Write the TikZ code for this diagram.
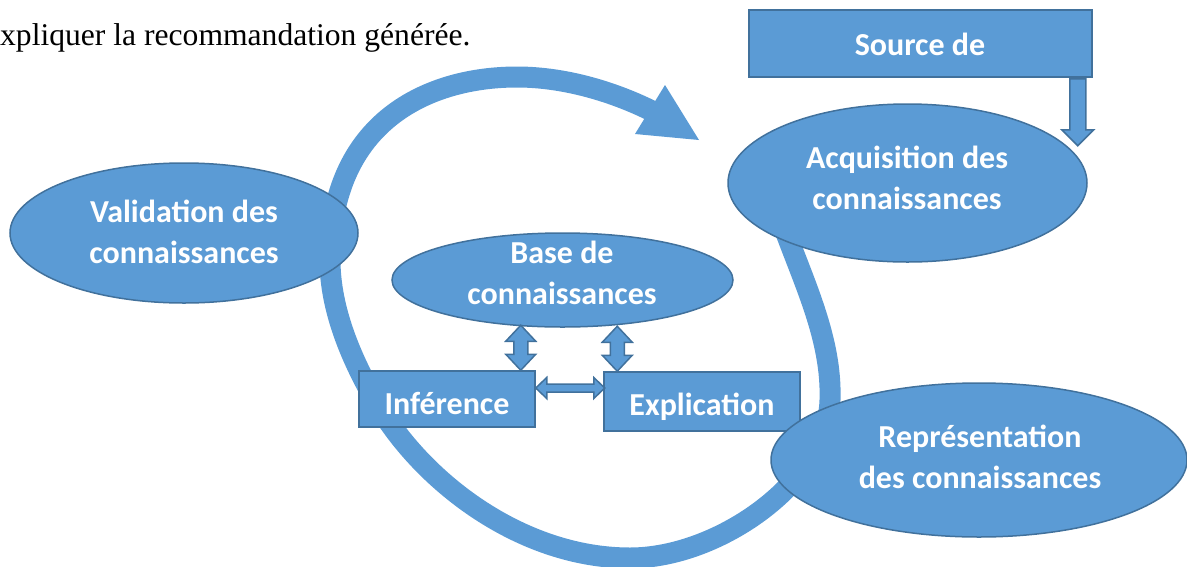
\documentclass[tikz,border=0pt]{standalone}
\usepackage{fontspec}
\setmainfont{Liberation Serif}
\newfontfamily\labelfont{Carlito}
\usetikzlibrary{shapes.geometric,calc}
\definecolor{fillblue}{HTML}{5B9BD5}
\definecolor{edgeblue}{HTML}{41719C}
\tikzset{
  shapebase/.style={fill=fillblue, draw=edgeblue, line width=1.5pt, inner sep=0pt},
  oval/.style={shapebase, ellipse},
  panel/.style={shapebase, rectangle},
  caption/.style={text=white, font=\labelfont\bfseries\fontsize{32}{41}\selectfont, align=center, inner sep=0pt},
  band/.style={draw=fillblue, line width=21pt},
  blockarrow/.style={fill=fillblue, draw=edgeblue, line width=1.5pt, line join=miter},
  vdouble/.pic={\draw[blockarrow] (0,0) -- (15,-16) -- (7,-16) -- (7,-29) -- (15,-29) -- (0,-45)
      -- (-15,-29) -- (-7,-29) -- (-7,-16) -- (-15,-16) -- cycle;},
  hdouble/.pic={\draw[blockarrow] (0,0) -- (11,-10.5) -- (11,-4) -- (58,-4) -- (58,-10.5) -- (69,0)
      -- (58,10.5) -- (58,4) -- (11,4) -- (11,10.5) -- cycle;},
}
\begin{document}
\begin{tikzpicture}[x=1pt,y=-1pt]
\useasboundingbox (0,0) rectangle (1187,566);

% lead-in sentence
\node[anchor=base west, inner sep=0pt, font=\fontsize{31.6}{31.6}\selectfont] (intro) at (0,45)
  {xpliquer la recommandation générée.};

% the knowledge cycle band (drawn beneath the shapes)
\coordinate (loopstart) at (783,225);
\coordinate (loopend) at (656,113);
\draw[band] (loopstart) .. controls (805,285) and (832,340) .. (830,400)
  .. controls (828,480) and (720,558) .. (630,558)
  .. controls (520,558) and (420,480) .. (375,400)
  .. controls (352,360) and (330,310) .. (330,260)
  .. controls (330,120) and (430,77) .. (517,77)
  .. controls (565,77) and (615,92) .. (loopend);
\fill[fillblue] (665,85) -- (699,140) -- (635,134) -- cycle;

% shapes
\node[panel, minimum width=343pt, minimum height=67pt] (src) at (920.5,43.5) {};
\node[oval, minimum width=359pt, minimum height=158pt] (acq) at (907.5,183) {};
\node[oval, minimum width=348pt, minimum height=140pt] (val) at (184,233) {};
\node[oval, minimum width=341pt, minimum height=94pt] (base) at (562.5,280) {};
\node[panel, minimum width=176pt, minimum height=56pt] (inf) at (447,399) {};
\node[panel, minimum width=196pt, minimum height=59pt] (expl) at (702,401.5) {};
\node[oval, minimum width=416pt, minimum height=154pt] (rep) at (979,460) {};

% captions
\node[caption] (srctxt) at (920,44) {Source de};
\node[caption] (acqtxt) at (907,177.5) {Acquisition des\\connaissances};
\node[caption] (valtxt) at (184,231.5) {Validation des\\connaissances};
\node[caption] (basetxt) at (562,272.5) {Base de\\connaissances};
\node[caption] (inftxt) at (447,403) {Inférence};
\node[caption] (expltxt) at (702,407) {Explication};
\node[caption] (reptxt) at (980,456.5) {Représentation\\des connaissances};

% arrow from the knowledge source into acquisition
\draw[blockarrow] ($(src.south east)+(-7,1)$) -- ++(0,51) -- ++(8,0) -- ++(-16,16)
  -- ++(-16,-16) -- ++(8,0) -- ++(0,-51) -- cycle;

% exchanges between the knowledge base, inference and explication
\pic at ($(inf.north east)+(-15,0)$) {vdouble};
\pic at ($(expl.north west)+(14,0)$) {vdouble};
\pic at ($(inf.east)+(0,-11)$) {hdouble};
\end{tikzpicture}
\end{document}
